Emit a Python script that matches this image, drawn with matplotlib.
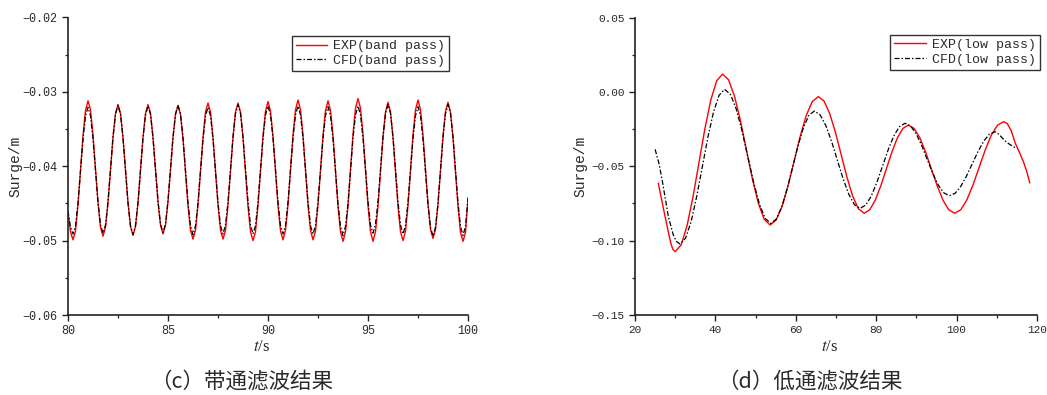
import numpy as np
import matplotlib
matplotlib.use("Agg")
import matplotlib.pyplot as plt
from matplotlib.ticker import MultipleLocator, FuncFormatter

plt.rcParams['font.family'] = ['Liberation Mono', 'Noto Sans CJK SC']
plt.rcParams['mathtext.fontset'] = 'stix'
plt.rcParams['axes.unicode_minus'] = True

# band pass surge, sampled every 0.125 s from 80 s to 100 s
t_band = np.linspace(80, 100, 161)
exp_band = [
    -0.0462, -0.0488,
    -0.0499, -0.0487, -0.0452, -0.0406, -0.0359, -0.0325, -0.0312, -0.0324, -0.0358, -0.0403, -0.0449, -0.0482,
    -0.0494, -0.0482, -0.0450, -0.0406, -0.0361, -0.0329, -0.0317, -0.0329, -0.0361, -0.0405, -0.0449, -0.0481,
    -0.0493, -0.0481, -0.0449, -0.0405, -0.0361, -0.0329, -0.0317, -0.0329, -0.0361, -0.0404, -0.0448, -0.0479,
    -0.0491, -0.0479, -0.0448, -0.0405, -0.0361, -0.0330, -0.0318, -0.0330, -0.0363, -0.0408, -0.0453, -0.0486,
    -0.0498, -0.0486, -0.0452, -0.0407, -0.0361, -0.0327, -0.0315, -0.0327, -0.0361, -0.0407, -0.0452, -0.0486,
    -0.0498, -0.0486, -0.0452, -0.0407, -0.0361, -0.0327, -0.0315, -0.0327, -0.0361, -0.0408, -0.0454, -0.0488,
    -0.0500, -0.0488, -0.0453, -0.0407, -0.0360, -0.0326, -0.0313, -0.0326, -0.0360, -0.0406, -0.0453, -0.0487,
    -0.0499, -0.0486, -0.0452, -0.0405, -0.0358, -0.0324, -0.0311, -0.0324, -0.0358, -0.0405, -0.0452, -0.0486,
    -0.0499, -0.0487, -0.0452, -0.0406, -0.0359, -0.0325, -0.0312, -0.0325, -0.0359, -0.0407, -0.0454, -0.0488,
    -0.0501, -0.0488, -0.0453, -0.0405, -0.0357, -0.0322, -0.0309, -0.0322, -0.0357, -0.0405, -0.0453, -0.0488,
    -0.0501, -0.0488, -0.0454, -0.0407, -0.0361, -0.0327, -0.0314, -0.0327, -0.0361, -0.0407, -0.0454, -0.0488,
    -0.0500, -0.0487, -0.0453, -0.0406, -0.0358, -0.0324, -0.0311, -0.0324, -0.0358, -0.0404, -0.0451, -0.0485,
    -0.0497, -0.0485, -0.0451, -0.0406, -0.0360, -0.0326, -0.0314, -0.0327, -0.0361, -0.0408, -0.0454, -0.0489,
    -0.0501, -0.0489, -0.0444,
]
cfd_band = [
    -0.0460, -0.0482,
    -0.0491, -0.0480, -0.0449, -0.0406, -0.0364, -0.0332, -0.0321, -0.0332, -0.0363, -0.0406, -0.0448, -0.0479,
    -0.0490, -0.0479, -0.0447, -0.0404, -0.0361, -0.0330, -0.0318, -0.0330, -0.0362, -0.0405, -0.0449, -0.0480,
    -0.0492, -0.0480, -0.0449, -0.0406, -0.0362, -0.0331, -0.0319, -0.0330, -0.0362, -0.0404, -0.0447, -0.0478,
    -0.0489, -0.0478, -0.0446, -0.0404, -0.0361, -0.0330, -0.0318, -0.0330, -0.0362, -0.0405, -0.0449, -0.0480,
    -0.0492, -0.0480, -0.0449, -0.0406, -0.0364, -0.0332, -0.0321, -0.0332, -0.0364, -0.0406, -0.0449, -0.0480,
    -0.0491, -0.0479, -0.0448, -0.0404, -0.0361, -0.0329, -0.0317, -0.0329, -0.0361, -0.0404, -0.0448, -0.0479,
    -0.0491, -0.0480, -0.0448, -0.0405, -0.0362, -0.0331, -0.0319, -0.0331, -0.0362, -0.0405, -0.0448, -0.0480,
    -0.0491, -0.0480, -0.0448, -0.0405, -0.0362, -0.0331, -0.0319, -0.0331, -0.0362, -0.0405, -0.0448, -0.0480,
    -0.0491, -0.0480, -0.0448, -0.0406, -0.0363, -0.0332, -0.0320, -0.0332, -0.0363, -0.0407, -0.0450, -0.0481,
    -0.0493, -0.0481, -0.0450, -0.0406, -0.0362, -0.0331, -0.0319, -0.0331, -0.0362, -0.0405, -0.0447, -0.0479,
    -0.0490, -0.0478, -0.0447, -0.0404, -0.0360, -0.0329, -0.0317, -0.0329, -0.0361, -0.0404, -0.0448, -0.0479,
    -0.0491, -0.0480, -0.0448, -0.0406, -0.0363, -0.0332, -0.0320, -0.0332, -0.0364, -0.0407, -0.0451, -0.0482,
    -0.0494, -0.0482, -0.0450, -0.0406, -0.0361, -0.0329, -0.0317, -0.0329, -0.0361, -0.0405, -0.0449, -0.0481,
    -0.0493, -0.0481, -0.0442,
]

# low pass surge
t_exp_low = [
    25.8, 26.5, 27.5, 28.5, 29.0, 29.5,
    30.0, 31.48, 32.95, 34.43, 35.9, 37.38, 38.85, 40.33,
    41.8, 43.28, 44.75, 46.23, 47.7, 49.18, 50.65, 52.13,
    53.6, 55.1, 56.6, 58.1, 59.6, 61.1, 62.6, 64.1,
    65.6, 67.03, 68.45, 69.88, 71.3, 72.73, 74.15, 75.58,
    77.0, 78.38, 79.75, 81.13, 82.5, 83.88, 85.25, 86.63,
    88.0, 89.44, 90.88, 92.31, 93.75, 95.19, 96.63, 98.06,
    99.5, 101.03, 102.55, 104.08, 105.6, 107.13, 108.65, 110.18,
    111.7, 112.6, 113.6, 114.6, 115.6, 116.7, 117.5, 118.2,
]
exp_low = [
    -0.0615, -0.0708, -0.0840, -0.0968, -0.1027, -0.1062,
    -0.1074, -0.1029, -0.0899, -0.0705, -0.0477, -0.0249, -0.0055, 0.0075,
    0.0120, 0.0081, -0.0029, -0.0193, -0.0388, -0.0582, -0.0746, -0.0856,
    -0.0895, -0.0862, -0.0769, -0.0629, -0.0464, -0.0298, -0.0158, -0.0065,
    -0.0032, -0.0062, -0.0147, -0.0274, -0.0424, -0.0574, -0.0701, -0.0786,
    -0.0816, -0.0793, -0.0729, -0.0633, -0.0520, -0.0406, -0.0310, -0.0246,
    -0.0223, -0.0246, -0.0310, -0.0406, -0.0520, -0.0633, -0.0729, -0.0793,
    -0.0816, -0.0793, -0.0726, -0.0626, -0.0508, -0.0390, -0.0290, -0.0224,
    -0.0200, -0.0213, -0.0262, -0.0345, -0.0405, -0.0475, -0.0540, -0.0611,
]
t_cfd_low = [
    25.0, 26.0, 26.9, 28.3, 29.5, 30.3,
    31.2, 32.59, 33.98, 35.36, 36.75, 38.14, 39.53, 40.91,
    42.3, 43.74, 45.18, 46.61, 48.05, 49.49, 50.93, 52.36,
    53.8, 55.15, 56.5, 57.85, 59.2, 60.55, 61.9, 63.25,
    64.6, 66.03, 67.45, 68.88, 70.3, 71.73, 73.15, 74.58,
    76.0, 77.4, 78.8, 80.2, 81.6, 83.0, 84.4, 85.8,
    87.2, 88.58, 89.95, 91.33, 92.7, 94.08, 95.45, 96.83,
    98.2, 99.63, 101.05, 102.48, 103.9, 105.33, 106.75, 108.18,
    109.6, 110.5, 111.7, 112.5, 113.5, 114.8,
]
cfd_low = [
    -0.0386, -0.0485, -0.0615, -0.0839, -0.0960, -0.1005,
    -0.1023, -0.0983, -0.0871, -0.0702, -0.0503, -0.0304, -0.0135, -0.0023,
    0.0017, -0.0017, -0.0115, -0.0261, -0.0434, -0.0606, -0.0752, -0.0850,
    -0.0884, -0.0855, -0.0774, -0.0651, -0.0507, -0.0362, -0.0240, -0.0158,
    -0.0129, -0.0154, -0.0225, -0.0331, -0.0456, -0.0581, -0.0687, -0.0758,
    -0.0783, -0.0761, -0.0699, -0.0606, -0.0497, -0.0388, -0.0295, -0.0233,
    -0.0211, -0.0230, -0.0282, -0.0361, -0.0455, -0.0548, -0.0627, -0.0679,
    -0.0698, -0.0682, -0.0635, -0.0565, -0.0483, -0.0401, -0.0331, -0.0284,
    -0.0268, -0.0285, -0.0319, -0.0340, -0.0358, -0.0379,
]

labels_band = ['EXP(band pass)', 'CFD(band pass)']
labels_low = ['EXP(low pass)', 'CFD(low pass)']
captions = ['（c）带通滤波结果', '（d）低通滤波结果']

text_color = '#2a2a2a'
dashdot = (0, (4, 1.6, 1.2, 1.6))


def fmt_surge(v, pos):
    if abs(v) < 1e-9:
        v = 0.0
    return f'{v:.2f}'.replace('-', '\u2212')


fig = plt.figure(figsize=(10.47, 3.95), dpi=100)
ax1 = fig.add_axes([68 / 1047, 80 / 395, 400 / 1047, 297.5 / 395])
ax2 = fig.add_axes([635 / 1047, 80 / 395, 402 / 1047, 297.5 / 395])


def style_axes(ax, tick_size):
    for side in ['top', 'right']:
        ax.spines[side].set_visible(False)
    for side in ['left', 'bottom']:
        ax.spines[side].set_linewidth(1.2)
        ax.spines[side].set_color('#222222')
    ax.tick_params(which='major', direction='out', length=4, width=1.0,
                   colors='#222222', labelcolor=text_color, labelsize=tick_size)
    ax.tick_params(which='minor', direction='out', length=2.5, width=0.9,
                   colors='#222222')
    ax.yaxis.set_major_formatter(FuncFormatter(fmt_surge))
    ax.set_ylabel('Surge/m', fontsize=10.5, color=text_color)
    ax.set_xlabel('$t$/s', fontsize=12, color=text_color,
                  family=['Liberation Serif'])


# (c) band pass
ax1.plot(t_band, exp_band, color='red', lw=1.0, label=labels_band[0])
ax1.plot(t_band, cfd_band, color='black', lw=0.9, linestyle=dashdot,
         label=labels_band[1])
ax1.set_xlim(80, 100)
ax1.set_ylim(-0.06, -0.02)
ax1.xaxis.set_major_locator(MultipleLocator(5))
ax1.xaxis.set_minor_locator(MultipleLocator(2.5))
ax1.yaxis.set_major_locator(MultipleLocator(0.01))
ax1.yaxis.set_minor_locator(MultipleLocator(0.005))
style_axes(ax1, 8.5)
ax1.yaxis.set_label_coords(-0.113, 0.5)
ax1.xaxis.set_label_coords(0.485, -0.082)
leg1 = ax1.legend(loc='upper right', bbox_to_anchor=(0.953, 0.938),
                  fontsize=9.5, frameon=True, fancybox=False,
                  handlelength=2.4, handletextpad=0.45, labelspacing=0.2,
                  borderpad=0.3, borderaxespad=0)

# (d) low pass
ax2.plot(t_exp_low, exp_low, color='red', lw=1.0, label=labels_low[0])
ax2.plot(t_cfd_low, cfd_low, color='black', lw=0.9, linestyle=dashdot,
         label=labels_low[1])
ax2.set_xlim(20, 120)
ax2.set_ylim(-0.15, 0.05)
ax2.xaxis.set_major_locator(MultipleLocator(20))
ax2.xaxis.set_minor_locator(MultipleLocator(10))
ax2.yaxis.set_major_locator(MultipleLocator(0.05))
ax2.yaxis.set_minor_locator(MultipleLocator(0.025))
style_axes(ax2, 8)
ax2.yaxis.set_label_coords(-0.117, 0.5)
ax2.xaxis.set_label_coords(0.483, -0.082)
leg2 = ax2.legend(loc='upper right', bbox_to_anchor=(1.007, 0.942),
                  fontsize=9.5, frameon=True, fancybox=False,
                  handlelength=2.4, handletextpad=0.45, labelspacing=0.2,
                  borderpad=0.3, borderaxespad=0)

for leg in (leg1, leg2):
    frame = leg.get_frame()
    frame.set_edgecolor('black')
    frame.set_linewidth(1.0)
    for txt in leg.get_texts():
        txt.set_color(text_color)

fig.text(242 / 1047, 1 - 381 / 395, captions[0], ha='center', va='center',
         fontsize=15.5, color=text_color, family=['Noto Sans CJK SC'])
fig.text(810 / 1047, 1 - 381 / 395, captions[1], ha='center', va='center',
         fontsize=15.5, color=text_color, family=['Noto Sans CJK SC'])

fig.savefig('out.png', dpi=100)
